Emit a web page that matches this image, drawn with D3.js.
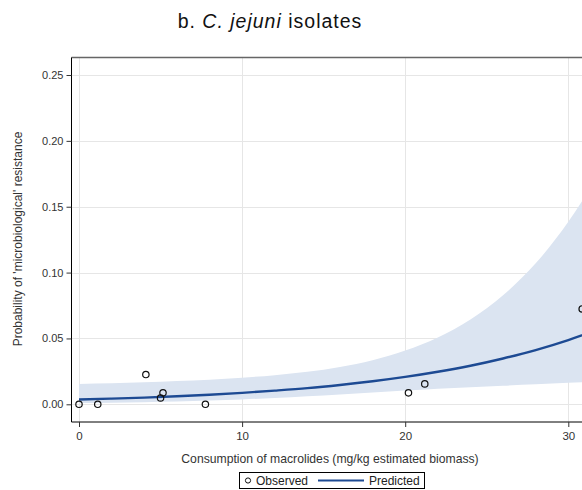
<!DOCTYPE html>
<html>
<head>
<meta charset="utf-8">
<script src="https://cdn.jsdelivr.net/npm/d3@7"></script>
<style>
  body { margin: 0; background: #fff; }
  text { font-family: "Liberation Sans", Arial, sans-serif; }
</style>
</head>
<body>
<svg id="chart" width="582" height="490"></svg>
<script>
// observed isolate proportions
const obsX = [0, 1.15, 4.1, 5.0, 5.15, 7.75, 20.2, 21.2, 30.85];
const obsY = [0, 0, 0.0226, 0.0048, 0.0087, 0, 0.0087, 0.0155, 0.0724];

// fitted probability and its confidence band
const fitX = [0, 2, 4, 6, 8, 10, 12, 14, 16, 18, 20, 22, 24, 26, 28, 30, 32];
const fitY = [0.0036, 0.0043, 0.0051, 0.0061, 0.0073, 0.0087, 0.0104, 0.0123, 0.0147,
  0.0175, 0.0208, 0.0247, 0.0293, 0.0348, 0.0412, 0.0488, 0.0576];
const fitLo = [0.0009, 0.0012, 0.0016, 0.0021, 0.0028, 0.0037, 0.0048, 0.0061, 0.0075,
  0.009, 0.0104, 0.0118, 0.013, 0.0141, 0.0152, 0.0163, 0.0173];
const fitHi = [0.0155, 0.016, 0.0167, 0.0176, 0.0187, 0.0202, 0.0221, 0.0247, 0.0284,
  0.0335, 0.0408, 0.0508, 0.0644, 0.0828, 0.107, 0.1385, 0.1775];

const xTicks = [0, 10, 20, 30];
const yTicks = [0, 0.05, 0.10, 0.15, 0.20, 0.25];

const svg = d3.select("#chart");
const pLeft = 71.5, pRight = 620, pTop = 57.5, pBottom = 422;

const x = d3.scaleLinear().domain([0, 30]).range([79, 568.3]);
const y = d3.scaleLinear().domain([0, 0.25]).range([404.3, 75]);

svg.append("defs").append("clipPath").attr("id", "plotClip")
  .append("rect").attr("x", pLeft).attr("y", pTop)
  .attr("width", pRight - pLeft).attr("height", pBottom - pTop);

// grid
const grid = svg.append("g").attr("stroke", "#e6e6e6").attr("stroke-width", 1);
grid.selectAll(".gy").data(yTicks).join("line")
  .attr("x1", pLeft).attr("x2", pRight)
  .attr("y1", d => Math.round(y(d)) + 0.5).attr("y2", d => Math.round(y(d)) + 0.5);
grid.selectAll(".gx").data(xTicks).join("line")
  .attr("y1", pTop).attr("y2", pBottom)
  .attr("x1", d => Math.round(x(d)) + 0.5).attr("x2", d => Math.round(x(d)) + 0.5);

const plot = svg.append("g").attr("clip-path", "url(#plotClip)");
const fit = fitX.map((v, i) => ({ x: v, y: fitY[i], lo: fitLo[i], hi: fitHi[i] }));

plot.append("path").datum(fit)
  .attr("fill", "#dbe4f1")
  .attr("d", d3.area().curve(d3.curveMonotoneX)
    .x(d => x(d.x)).y0(d => y(d.lo)).y1(d => y(d.hi)));

plot.append("path").datum(fit)
  .attr("fill", "none").attr("stroke", "#1d4a93").attr("stroke-width", 2.4)
  .attr("d", d3.line().curve(d3.curveMonotoneX).x(d => x(d.x)).y(d => y(d.y)));

plot.selectAll(".obs").data(obsX.map((v, i) => [v, obsY[i]])).join("circle")
  .attr("cx", d => x(d[0])).attr("cy", d => y(d[1])).attr("r", 3.2)
  .attr("fill", "none").attr("stroke", "#111").attr("stroke-width", 1.2);

// frame
svg.append("line").attr("x1", pLeft).attr("x2", pRight).attr("y1", pTop).attr("y2", pTop)
  .attr("stroke", "#666").attr("stroke-width", 1.5);

// axes
const yAxis = svg.append("g").attr("transform", `translate(${pLeft},0)`)
  .call(d3.axisLeft(y).tickValues(yTicks).tickFormat(d3.format(".2f")).tickSizeOuter(0).tickSize(5).tickPadding(3));
yAxis.select(".domain").attr("d", `M0,${pTop}V${pBottom}`).attr("stroke", "#000");
yAxis.selectAll(".tick line").attr("stroke", "#333");
yAxis.selectAll("text").attr("font-size", 11).attr("fill", "#333")
  .attr("font-family", "'Liberation Sans', Arial, sans-serif");

const xAxis = svg.append("g").attr("transform", `translate(0,${pBottom})`)
  .call(d3.axisBottom(x).tickValues(xTicks).tickSizeOuter(0).tickSize(5).tickPadding(5));
xAxis.select(".domain").attr("d", `M${pLeft},0H${pRight}`).attr("stroke", "#000");
xAxis.selectAll(".tick line").attr("stroke", "#333");
xAxis.selectAll("text").attr("font-size", 11.5).attr("fill", "#333")
  .attr("font-family", "'Liberation Sans', Arial, sans-serif");

// titles
const title = svg.append("text").attr("x", 270).attr("y", 28)
  .attr("text-anchor", "middle").attr("font-size", 19.5).attr("letter-spacing", 1)
  .attr("fill", "#111");
title.append("tspan").text("b. ");
title.append("tspan").attr("font-style", "italic").text("C. jejuni");
title.append("tspan").text(" isolates");

svg.append("text").attr("transform", "translate(22,239) rotate(-90)")
  .attr("text-anchor", "middle").attr("font-size", 12).attr("fill", "#333")
  .text("Probability of 'microbiological' resistance");

svg.append("text").attr("x", 330).attr("y", 463)
  .attr("text-anchor", "middle").attr("font-size", 12.2).attr("fill", "#333")
  .text("Consumption of macrolides (mg/kg estimated biomass)");

// legend
const lg = svg.append("g");
lg.append("rect").attr("x", 239.5).attr("y", 472.5).attr("width", 185).attr("height", 16)
  .attr("fill", "#fff").attr("stroke", "#000").attr("stroke-width", 1);
lg.append("circle").attr("cx", 248).attr("cy", 480.5).attr("r", 2.6)
  .attr("fill", "none").attr("stroke", "#111").attr("stroke-width", 1);
lg.append("text").attr("x", 256).attr("y", 485).attr("font-size", 12).attr("fill", "#222").text("Observed");
lg.append("line").attr("x1", 318).attr("x2", 364).attr("y1", 480.5).attr("y2", 480.5)
  .attr("stroke", "#1d4a93").attr("stroke-width", 2);
lg.append("text").attr("x", 369).attr("y", 485).attr("font-size", 12).attr("fill", "#222").text("Predicted");
</script>
</body>
</html>
